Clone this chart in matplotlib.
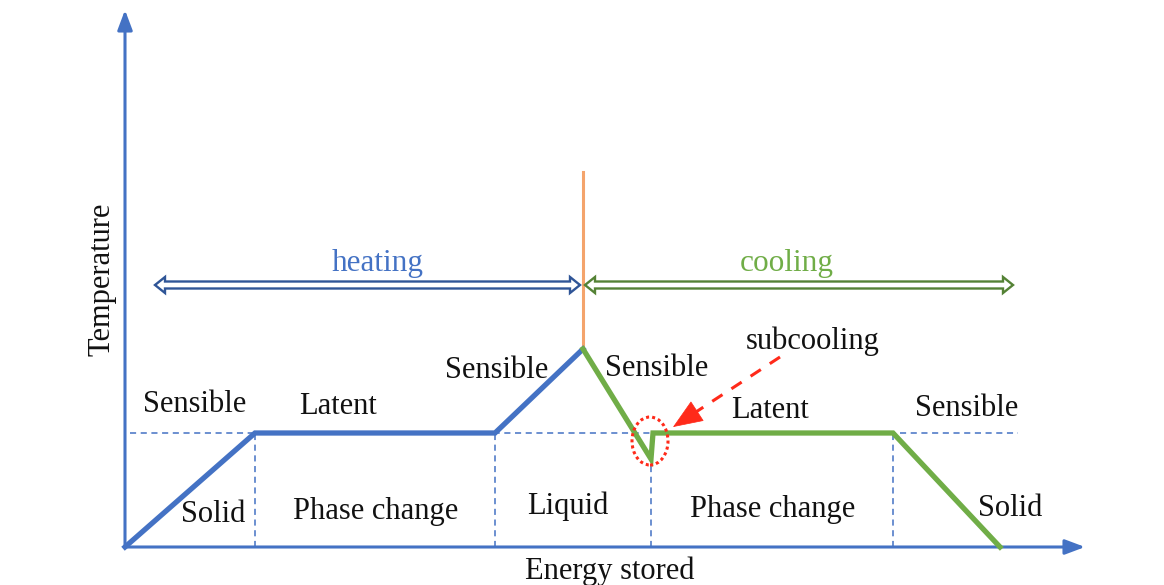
import numpy as np
import matplotlib
matplotlib.use('Agg')
import matplotlib.pyplot as plt
from matplotlib.patches import Polygon, Ellipse, FancyArrowPatch


# ── Data (energy / temperature in drawing units, origin at axes corner) ─────
heat_energy = [0, 130, 370, 458]
heat_temp   = [0, 114, 114, 198]

cool_energy = [458, 526, 528, 768, 875]
cool_temp   = [198, 88, 114, 114, 0]

T_MELT      = 114
E_PEAK      = 458
T_TOP_LINE  = 375
dash_edges  = [130, 370, 526, 768]
dash_tops   = [114, 114, 88, 114]

heat_span   = (30, 455)
cool_span   = (460, 888)
span_level  = 262

# labels: (text, energy, temperature)
top_labels = [
    ('Sensible',   70, 142),
    ('Latent',    213, 141),
    ('Sensible',  372, 177),
    ('Sensible',  532, 178),
    ('Latent',    645, 136),
    ('Sensible',  842, 138),
]
bottom_labels = [
    ('Solid',         88, 33),
    ('Phase change', 251, 36),
    ('Liquid',       443, 41),
    ('Phase change', 648, 37),
    ('Solid',        885, 39),
]

sub_start = (655, 190)
sub_tip   = (548, 120)

BLUE   = '#4472c4'
DBLUE  = '#2f5597'
GREEN  = '#70ad47'
DGREEN = '#548235'
ORANGE = '#f4a46c'
RED    = '#ff2a1a'
INK    = '#111111'
FONT   = 'Liberation Serif'


def darrow(ax, x0, x1, y, edge, shaft=3.5, head=8.0, hlen=10.0):
    """Hollow double-headed arrow drawn as one outline polygon."""
    pts = [(x0, y), (x0 + hlen, y + head), (x0 + hlen, y + shaft),
           (x1 - hlen, y + shaft), (x1 - hlen, y + head), (x1, y),
           (x1 - hlen, y - head), (x1 - hlen, y - shaft),
           (x0 + hlen, y - shaft), (x0 + hlen, y - head)]
    ax.add_patch(Polygon(pts, closed=True, facecolor='white',
                         edgecolor=edge, lw=1.7, joinstyle='miter', zorder=4))


fig = plt.figure(figsize=(11.64, 5.85), dpi=100, facecolor='white')
ax = fig.add_axes([0, 0, 1, 1])
ax.set_xlim(-125, 1164 - 125)
ax.set_ylim(-38, 547)
ax.axis('off')

# axes with arrow heads
ax.annotate('', xy=(0, 537), xytext=(0, 0),
            arrowprops=dict(arrowstyle='-|>,head_length=1.2,head_width=0.45',
                            color=BLUE, lw=2.2, shrinkA=0, shrinkB=0))
ax.annotate('', xy=(960, 0), xytext=(0, 0),
            arrowprops=dict(arrowstyle='-|>,head_length=1.2,head_width=0.45',
                            color=BLUE, lw=2.2, shrinkA=0, shrinkB=0))

# dashed guides
ax.plot([5, 893], [T_MELT, T_MELT], color=BLUE, lw=1.1, ls=(0, (4, 3)), zorder=2)
for e, t in zip(dash_edges, dash_tops):
    ax.plot([e, e], [0, t], color=BLUE, lw=1.1, ls=(0, (4, 3)), zorder=2)

# orange divider
ax.plot([E_PEAK, E_PEAK], [heat_temp[-1], T_TOP_LINE], color=ORANGE, lw=2.2, zorder=3)

# curves
ax.plot(heat_energy, heat_temp, color=BLUE, lw=3.8, solid_joinstyle='miter', zorder=5)
ax.plot(cool_energy, cool_temp, color=GREEN, lw=3.8, solid_joinstyle='miter', zorder=5)

# subcooling marker: dotted ring, dashed leader, solid head
ax.add_patch(Ellipse((525, 106), 36, 48, fill=False, edgecolor=RED,
                     lw=2.2, ls=(0, (1, 1)), zorder=6))
vec = np.subtract(sub_start, sub_tip)
base = np.add(sub_tip, vec / np.hypot(*vec) * 20)
ax.plot([sub_start[0], base[0]], [sub_start[1], base[1]], color=RED,
        lw=2.2, ls=(0, (4, 3.5)), zorder=6)
ax.add_patch(FancyArrowPatch(tuple(base), sub_tip,
                             arrowstyle='-|>,head_length=20,head_width=8',
                             mutation_scale=1, color=RED, lw=0.5,
                             shrinkA=0, shrinkB=0, zorder=6))

# heating / cooling spans
darrow(ax, heat_span[0], heat_span[1], span_level, DBLUE)
darrow(ax, cool_span[0], cool_span[1], span_level, DGREEN)
ax.text(sum(heat_span) / 2 + 10, span_level + 22, 'heating', color=BLUE,
        fontsize=22.5, family=FONT, ha='center', va='center')
ax.text(sum(cool_span) / 2 - 12, span_level + 22, 'cooling', color=GREEN,
        fontsize=22.5, family=FONT, ha='center', va='center')

for txt, e, t in top_labels + bottom_labels:
    ax.text(e, t, txt, color=INK, fontsize=22, family=FONT, ha='center', va='center')

ax.text(688, 206, 'subcooling', color=INK, fontsize=22, family=FONT,
        ha='center', va='center')
ax.text(485, -24, 'Energy stored', color=INK, fontsize=22, family=FONT,
        ha='center', va='center')
ax.text(-23, 268, 'Temperature', color=INK, fontsize=22, family=FONT,
        ha='center', va='center', rotation=90)

fig.savefig('out.png', dpi=100, facecolor='white')
